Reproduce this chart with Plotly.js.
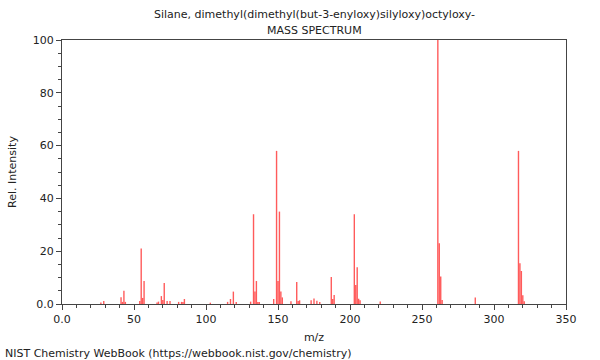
<!DOCTYPE html>
<html>
<head>
<meta charset="utf-8">
<script src="https://cdn.plot.ly/plotly-3.0.1.min.js"></script>
<style>html,body{margin:0;padding:0;background:#fff;}#chart{width:600px;height:360px;}</style>
</head>
<body>
<div id="chart"></div>
<script>
const mz = [27, 29, 41, 42, 43, 44, 54, 55, 56, 57, 66, 67, 69, 70, 71, 73, 75, 81, 83, 84, 85, 103, 115,
            117, 119, 121, 131, 133, 134, 135, 136, 137, 147, 149, 150, 151, 152, 153, 159, 163, 164, 165,
            173, 175, 177, 179, 187, 188, 189, 203, 204, 205, 206, 207, 221,
            261, 262, 263, 264, 287, 317, 318, 319, 320, 321];
const intensity = [0.6, 1.1, 2.6, 0.8, 5.0, 0.8, 1.1, 21.0, 2.3, 8.7, 0.6, 0.9, 3.0, 1.5, 8.0, 1.1, 1.1, 0.8, 0.8, 0.8, 1.9, 0.5, 0.8,
            1.9, 4.7, 0.8, 0.9, 34.0, 4.7, 8.7, 0.8, 0.8, 1.9, 58.0, 8.7, 35.0, 4.7, 2.5, 1.0, 8.3, 1.1, 1.4,
            1.4, 2.1, 1.2, 0.8, 10.2, 1.9, 3.4, 34.0, 7.2, 13.9, 2.0, 1.4, 0.9,
            100.0, 23.0, 10.4, 1.5, 2.5, 58.0, 15.4, 12.5, 3.3, 1.0];

const xTickVals = [0, 50, 100, 150, 200, 250, 300, 350];
const xTickText = ["0.0", "50", "100", "150", "200", "250", "300", "350"];
const yTickVals = [0, 20, 40, 60, 80, 100];
const yTickText = ["0.0", "20", "40", "60", "80", "100"];

const titleLine1 = "Silane, dimethyl(dimethyl(but-3-enyloxy)silyloxy)octyloxy-";
const titleLine2 = "MASS SPECTRUM";
const footer = "NIST Chemistry WebBook (https://webbook.nist.gov/chemistry)";

const xs = [], ys = [];
for (let i = 0; i < mz.length; i++) {
  xs.push(mz[i], mz[i], null);
  ys.push(0, intensity[i], null);
}

const font = {family: "DejaVu Sans, sans-serif", size: 11, color: "#222"};

const trace = {
  x: xs, y: ys, type: "scatter", mode: "lines",
  line: {color: "rgba(255,50,50,0.8)", width: 1.4},
  hoverinfo: "skip", showlegend: false
};

const axisCommon = {
  showgrid: false, zeroline: false, showline: true, mirror: true,
  linecolor: "#444", linewidth: 1, ticks: "outside", ticklen: 5, tickcolor: "#444",
  tickfont: {family: font.family, size: 11, color: "#222"}
};

const layout = {
  width: 600, height: 360,
  margin: {l: 62, r: 34, t: 40, b: 56},
  paper_bgcolor: "#fff", plot_bgcolor: "#fff",
  font: font,
  showlegend: false,
  xaxis: Object.assign({}, axisCommon, {
    range: [0, 350], tickmode: "array", tickvals: xTickVals, ticktext: xTickText,
    minor: {dtick: 10, tick0: 0, ticks: "outside", ticklen: 3, tickcolor: "#444", showgrid: false},
    title: {text: "m/z", font: {family: font.family, size: 11, color: "#222"}, standoff: 8}
  }),
  yaxis: Object.assign({}, axisCommon, {
    range: [0, 100], tickmode: "array", tickvals: yTickVals, ticktext: yTickText,
    minor: {dtick: 5, tick0: 0, ticks: "outside", ticklen: 3, tickcolor: "#444", showgrid: false},
    title: {text: "Rel. Intensity", font: {family: font.family, size: 11, color: "#222"}, standoff: 13}
  }),
  annotations: [
    {text: titleLine1, xref: "paper", yref: "paper", x: 0.5, y: 1, yshift: 26, xanchor: "center", yanchor: "middle", showarrow: false, font: {family: font.family, size: 11, color: "#222"}},
    {text: titleLine2, xref: "paper", yref: "paper", x: 0.5, y: 1, yshift: 10, xanchor: "center", yanchor: "middle", showarrow: false, font: {family: font.family, size: 11, color: "#222"}},
    {text: footer, xref: "paper", yref: "paper", x: 0, xshift: -59, y: 0, yshift: -49, xanchor: "left", yanchor: "middle", showarrow: false, font: {family: font.family, size: 11, color: "#222"}}
  ]
};

Plotly.newPlot("chart", [trace], layout, {displayModeBar: false, staticPlot: true});
</script>
</body>
</html>
